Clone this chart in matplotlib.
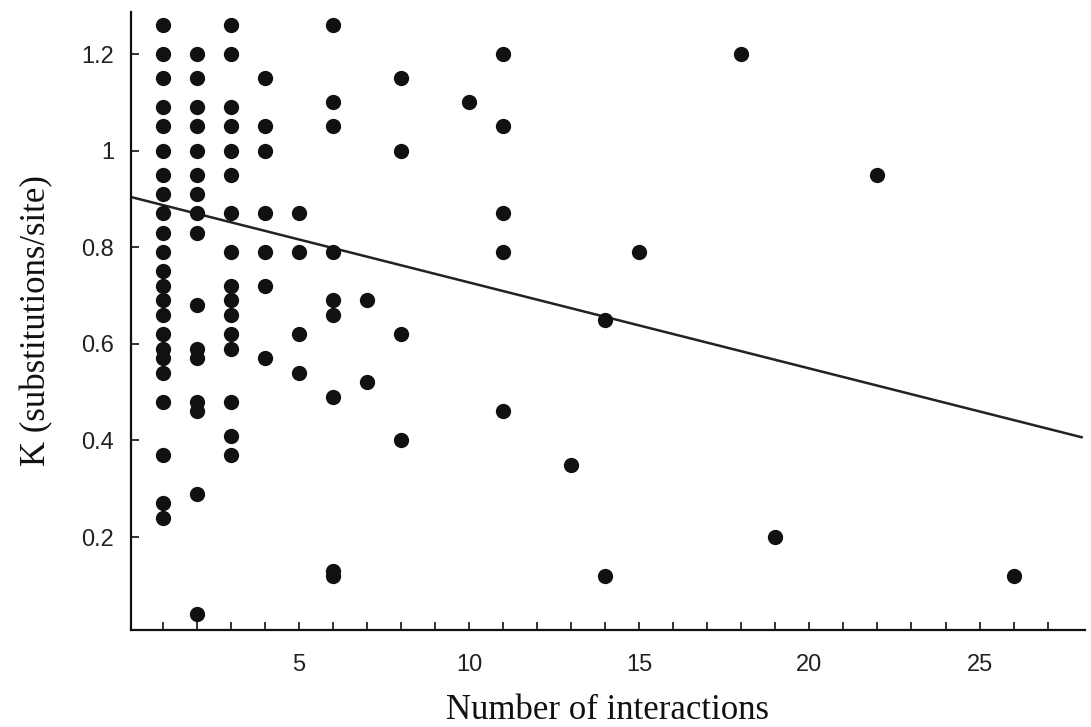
'''
K (substitutions/site) vs number of interactions, scatter with linear fit
'''

import matplotlib
matplotlib.use("Agg")
import matplotlib.pyplot as plt
import numpy as np
from matplotlib.ticker import FixedLocator

# values, one entry per point
interactions = (
    [1] * 23 + [2] * 16 + [3] * 16 + [4] * 7 + [5] * 4 + [6] * 9 + [7] * 2
    + [8] * 4 + [10] + [11] * 5 + [13] + [14] * 2 + [15] + [18] + [19] + [22] + [26]
)
k_values = [
    # 1 interaction
    1.26, 1.20, 1.15, 1.09, 1.05, 1.00, 0.95, 0.91, 0.87, 0.83, 0.79, 0.75,
    0.72, 0.69, 0.66, 0.62, 0.59, 0.57, 0.54, 0.48, 0.37, 0.27, 0.24,
    # 2
    1.20, 1.15, 1.09, 1.05, 1.00, 0.95, 0.91, 0.87, 0.83, 0.68, 0.59, 0.57,
    0.48, 0.46, 0.29, 0.04,
    # 3
    1.26, 1.20, 1.09, 1.05, 1.00, 0.95, 0.87, 0.79, 0.72, 0.69, 0.66, 0.62,
    0.59, 0.48, 0.41, 0.37,
    # 4
    1.15, 1.05, 1.00, 0.87, 0.79, 0.72, 0.57,
    # 5
    0.87, 0.79, 0.62, 0.54,
    # 6
    1.26, 1.10, 1.05, 0.79, 0.69, 0.66, 0.49, 0.13, 0.12,
    # 7
    0.69, 0.52,
    # 8
    1.15, 1.00, 0.62, 0.40,
    # 10
    1.10,
    # 11
    1.20, 1.05, 0.87, 0.79, 0.46,
    # 13, 14, 15, 18, 19, 22, 26
    0.35, 0.65, 0.12, 0.79, 1.20, 0.20, 0.95, 0.12,
]

# fitted regression line
fit_intercept = 0.905
fit_slope = -0.0178

x_major = [5, 10, 15, 20, 25]
x_minor = list(range(1, 28))
y_major = [0.2, 0.4, 0.6, 0.8, 1.0, 1.2]
y_labels = ["0.2", "0.4", "0.6", "0.8", "1", "1.2"]

fig = plt.figure(figsize=(10.91, 7.27), dpi=100)
ax = fig.add_axes([131 / 1091, 97 / 727, 954 / 1091, 618 / 727])

ax.plot(interactions, k_values, "o", color="#111111", ms=11, mew=0, zorder=3)

xlim = (0.06, 28.1)
line_x = np.array([xlim[0], 28.0])
ax.plot(line_x, fit_intercept + fit_slope * line_x, color="#222222", lw=1.8, zorder=2)

ax.set_xlim(*xlim)
ax.set_ylim(0.0075, 1.287)

for side in ("top", "right"):
    ax.spines[side].set_visible(False)
for side in ("left", "bottom"):
    ax.spines[side].set_linewidth(1.6)
    ax.spines[side].set_color("#111111")

ax.set_xticks(x_major)
ax.xaxis.set_minor_locator(FixedLocator(x_minor))
ax.set_yticks(y_major)
ax.set_yticklabels(y_labels)

tick_font = ["Liberation Sans", "DejaVu Sans"]
ax.tick_params(axis="both", which="both", direction="in", length=6, width=1.2, color="#111111")
ax.tick_params(axis="x", which="major", pad=17)
ax.tick_params(axis="y", which="major", pad=12)
for lab in ax.get_xticklabels() + ax.get_yticklabels():
    lab.set_family(tick_font)
    lab.set_fontsize(17)
    lab.set_color("#222222")

serif = ["Liberation Serif", "DejaVu Serif"]
ax.set_xlabel("Number of interactions", family=serif, fontsize=25, labelpad=13, color="#111111")
ax.set_ylabel("K (substitutions/site)", family=serif, fontsize=25, labelpad=20, color="#111111")

fig.savefig("out.png", dpi=100)
plt.close(fig)
